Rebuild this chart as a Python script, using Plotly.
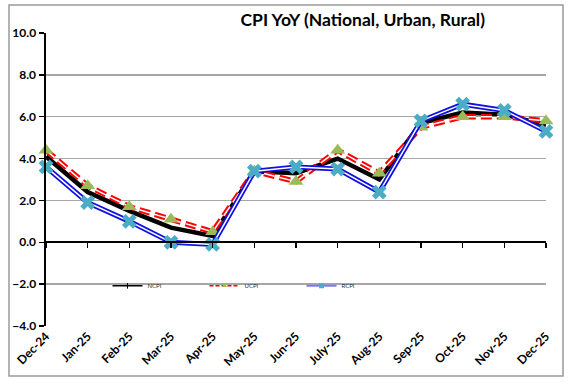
import plotly.graph_objects as go

months = ["Dec-24", "Jan-25", "Feb-25", "Mar-25", "Apr-25", "May-25", "Jun-25",
          "July-25", "Aug-25", "Sep-25", "Oct-25", "Nov-25", "Dec-25"]
ncpi = [4.1, 2.4, 1.5, 0.7, 0.3, 3.4, 3.3, 4.0, 3.0, 5.7, 6.2, 6.1, 5.6]
ucpi = [4.4, 2.7, 1.7, 1.1, 0.5, 3.4, 2.9, 4.4, 3.3, 5.5, 6.0, 6.0, 5.8]
rcpi = [3.6, 1.9, 1.0, 0.0, -0.1, 3.4, 3.6, 3.5, 2.4, 5.8, 6.6, 6.3, 5.3]
y_ticks = [-4, -2, 0, 2, 4, 6, 8, 10]

xs = list(range(len(months)))
FONT = "Lato"

fig = go.Figure()

# NCPI: thick black line
fig.add_trace(go.Scatter(x=xs, y=ncpi, mode="lines", showlegend=False,
                         line=dict(color="black", width=4.5), cliponaxis=False,
                         hoverinfo="skip"))
# UCPI: red dashed double line with green triangles
fig.add_trace(go.Scatter(x=xs, y=ucpi, mode="lines", showlegend=False,
                         line=dict(color="#FF0000", width=5.5, dash="11px,5px"),
                         cliponaxis=False, hoverinfo="skip"))
fig.add_trace(go.Scatter(x=xs, y=ucpi, mode="lines+markers", showlegend=False,
                         line=dict(color="white", width=1.5, dash="11px,5px"),
                         marker=dict(symbol="triangle-up", size=13, color="#9BBB59",
                                     line=dict(width=0)),
                         cliponaxis=False, hoverinfo="skip"))
# RCPI: blue double line with light blue crosses
fig.add_trace(go.Scatter(x=xs, y=rcpi, mode="lines", showlegend=False,
                         line=dict(color="#1010E0", width=5),
                         cliponaxis=False, hoverinfo="skip"))
fig.add_trace(go.Scatter(x=xs, y=rcpi, mode="lines+markers", showlegend=False,
                         line=dict(color="white", width=1.5),
                         marker=dict(symbol="x", size=13, color="#4BACC6",
                                     line=dict(width=0)),
                         cliponaxis=False, hoverinfo="skip"))

# legend entries
fig.add_trace(go.Scatter(x=[None], y=[None], mode="lines+markers", name="NCPI",
                         line=dict(color="black", width=1.5),
                         marker=dict(symbol="line-ns-open", size=4,
                                     line=dict(color="black", width=1))))
fig.add_trace(go.Scatter(x=[None], y=[None], mode="lines+markers", name="UCPI",
                         line=dict(color="#FF0000", width=1.5, dash="4px,2px"),
                         marker=dict(symbol="triangle-up", size=5, color="#9BBB59")))
fig.add_trace(go.Scatter(x=[None], y=[None], mode="lines+markers", name="RCPI",
                         line=dict(color="#7B7BF0", width=2),
                         marker=dict(symbol="square", size=5, color="#4BACC6")))

# zero-line category axis carrier
fig.add_trace(go.Scatter(x=[None], y=[None], xaxis="x2", showlegend=False,
                         hoverinfo="skip"))

fig.update_layout(
    width=586, height=388,
    margin=dict(l=46, r=40, t=33, b=62),
    paper_bgcolor="white", plot_bgcolor="white",
    font=dict(family=FONT, color="black"),
    title=dict(text="<b>CPI YoY (National, Urban, Rural)</b>", x=0.619, xanchor="center",
               y=0.948, yanchor="middle", font=dict(size=17.5, family=FONT, color="black")),
    xaxis=dict(range=[0, 12], tickmode="array", tickvals=xs, ticktext=months,
               tickangle=-45, showgrid=False, zeroline=False, showline=False,
               ticks="", tickfont=dict(size=12, family=FONT, color="black", weight="bold")),
    xaxis2=dict(range=[0, 12], overlaying="x", anchor="free", position=4 / 14,
                tickmode="array", tickvals=xs, showticklabels=False,
                showline=True, linecolor="black", linewidth=2,
                ticks="outside", ticklen=5, tickwidth=1.5, tickcolor="black",
                showgrid=False, zeroline=False),
    yaxis=dict(range=[-4, 10], tickmode="array", tickvals=y_ticks, tickformat=".1f",
               showgrid=True, gridcolor="#A6A6A6", gridwidth=1.5, zeroline=False,
               showline=True, linecolor="black", linewidth=2.5,
               ticks="outside", ticklen=5, tickwidth=1.5, tickcolor="black",
               tickfont=dict(size=12, family=FONT, color="black", weight="bold")),
    legend=dict(orientation="h", x=0.123, xanchor="left", y=0.137, yanchor="middle",
                bgcolor="rgba(0,0,0,0)", font=dict(size=6, family=FONT, color="#333333"),
                entrywidth=52, entrywidthmode="pixels", itemwidth=30),
    shapes=[dict(type="rect", xref="paper", yref="paper",
                 x0=-0.074, x1=1.034, y0=-0.1706, y1=1.0956,
                 line=dict(color="#9A9A9A", width=1.5), layer="below")],
)

fig.write_html("out.html", config={"displayModeBar": False, "staticPlot": True},
               post_script="document.body.style.margin='0';document.body.style.overflow='hidden';")
